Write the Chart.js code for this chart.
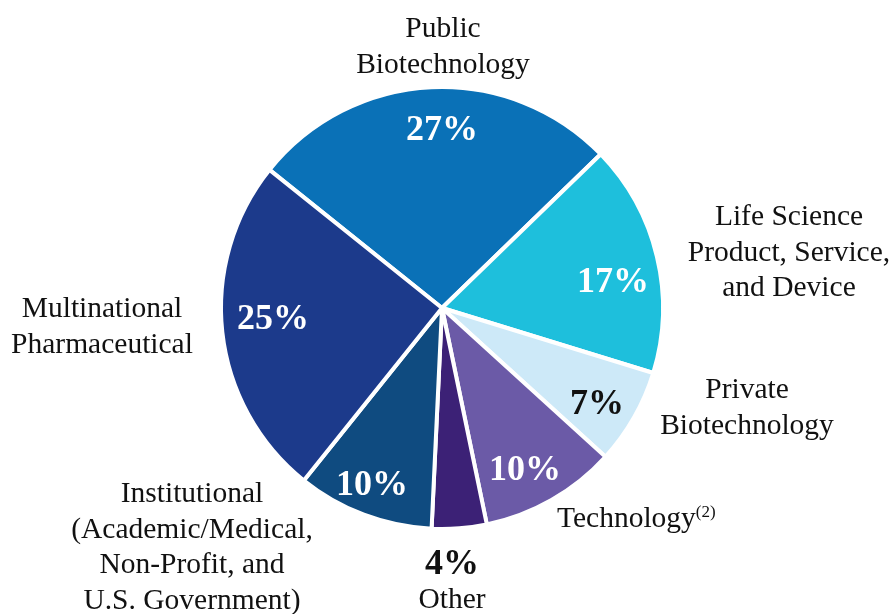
<!DOCTYPE html>
<html>
<head>
<meta charset="utf-8">
<script src="https://cdn.jsdelivr.net/npm/chart.js@4"></script>
<style>
  html, body { margin: 0; padding: 0; background: #ffffff; }
  #wrap { width: 893px; height: 614px; position: relative; }
</style>
</head>
<body>
<div id="wrap"><canvas id="pieChart"></canvas></div>
<script>
// Dados do gráfico
const categories = ['Public Biotechnology', 'Life Science Product, Service, and Device', 'Private Biotechnology',
    'Technology', 'Other', 'Institutional', 'Multinational Pharmaceutical'];
const shares = [27, 17, 7, 10, 4, 10, 25];
const sliceColors = ['#0a71b7', '#1ebfdc', '#cde9f8', '#6b5aa7', '#3c2176', '#0f4b80', '#1c3a8b'];
const pctColors = ['#ffffff', '#ffffff', '#111111', '#ffffff', '#111111', '#ffffff', '#ffffff'];

// Posição dos percentuais (centro do texto)
const pctPos = [[442, 131], [613, 283], [597, 405], [525, 471], [452, 565], [372, 486], [273, 320]];

// Rótulos externos (linhas de texto) e posição
const outerLabels = [
    { lines: ['Public', 'Biotechnology'], x: 443, y: 37 },
    { lines: ['Life Science', 'Product, Service,', 'and Device'], x: 789, y: 225 },
    { lines: ['Private', 'Biotechnology'], x: 747, y: 398 },
    { lines: ['Technology'], x: 557, y: 527, align: 'left', sup: '(2)' },
    { lines: ['Other'], x: 452, y: 608 },
    { lines: ['Institutional', '(Academic/Medical,', 'Non-Profit, and', 'U.S. Government)'], x: 192, y: 502 },
    { lines: ['Multinational', 'Pharmaceutical'], x: 102, y: 317 }
];

const serif = '"Liberation Serif", "Times New Roman", serif';

const labelPlugin = {
    id: 'labelPlugin',
    afterDraw(chart) {
        const ctx = chart.ctx;
        ctx.save();

        // percentuais
        ctx.font = 'bold 36px ' + serif;
        ctx.textAlign = 'center';
        ctx.textBaseline = 'middle';
        shares.forEach((v, i) => {
            ctx.fillStyle = pctColors[i];
            ctx.fillText(v + '%', pctPos[i][0], pctPos[i][1]);
        });

        // rótulos externos
        ctx.font = '29.5px ' + serif;
        ctx.fillStyle = '#111111';
        ctx.textBaseline = 'alphabetic';
        outerLabels.forEach(lab => {
            ctx.textAlign = lab.align || 'center';
            lab.lines.forEach((line, k) => {
                ctx.fillText(line, lab.x, lab.y + k * 35.5);
            });
            if (lab.sup) {
                const w = ctx.measureText(lab.lines[0]).width;
                ctx.font = '17px ' + serif;
                ctx.textAlign = 'left';
                ctx.fillText(lab.sup, lab.x + w, lab.y - 10);
                ctx.font = '29.5px ' + serif;
            }
        });
        ctx.restore();
    }
};

const ctx = document.getElementById('pieChart').getContext('2d');
new Chart(ctx, {
    type: 'pie',
    data: {
        labels: categories,
        datasets: [{
            data: shares,
            backgroundColor: sliceColors,
            borderColor: '#ffffff',
            borderWidth: 4
        }]
    },
    options: {
        responsive: true,
        maintainAspectRatio: false,
        animation: false,
        rotation: -51.3,
        layout: { padding: { left: 219, right: 228, top: 85, bottom: 83 } },
        plugins: {
            legend: { display: false },
            tooltip: { enabled: false }
        }
    },
    plugins: [labelPlugin]
});
</script>
</body>
</html>
